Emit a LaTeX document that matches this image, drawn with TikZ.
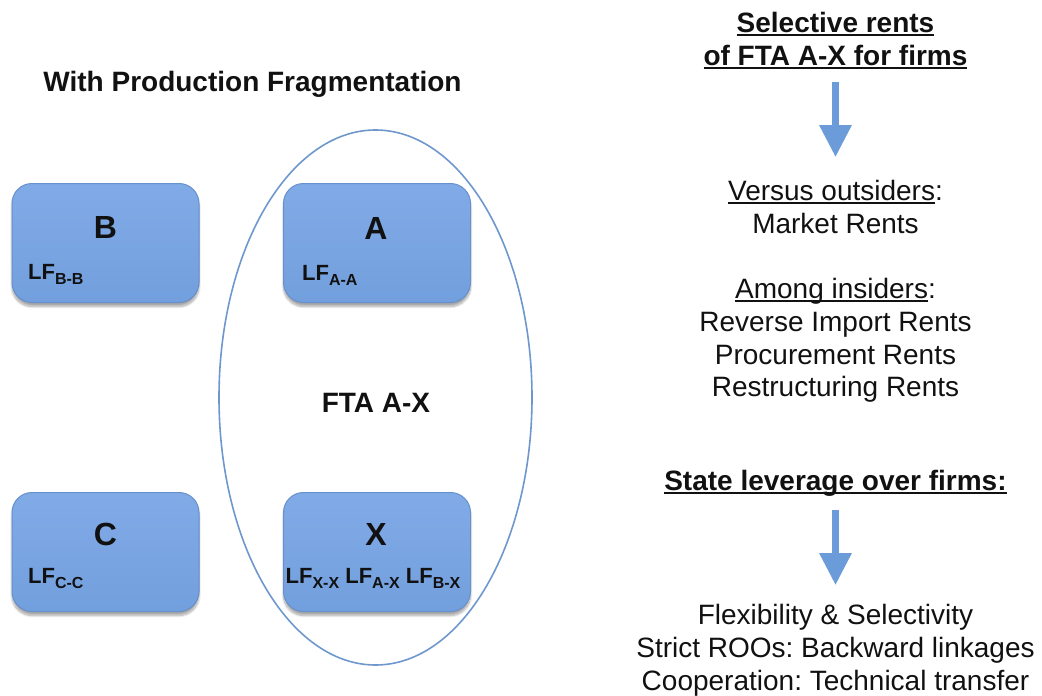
\documentclass[tikz,border=0pt]{standalone}
\usepackage{fontspec}
\setmainfont{Liberation Sans}
\usetikzlibrary{shapes.geometric,arrows.meta,shadows.blur}
\frenchspacing

\definecolor{boxtop}{HTML}{81ABE7}
\definecolor{boxbot}{HTML}{729FDD}
\definecolor{boxline}{HTML}{6790CC}
\definecolor{ringblue}{HTML}{6E97CE}
\definecolor{arrowblue}{HTML}{6B9BD8}
\definecolor{ink}{HTML}{111111}

% underline at a fixed depth below the baseline (crosses descenders)
\newcommand\uln[1]{\setbox0\hbox{#1}\rlap{\rule[-3.6pt]{\wd0}{1.7pt}}\box0}
% "LF" with a lowered small subscript
\newcommand\lfsub[1]{LF\raisebox{-5.5pt}{\fontsize{16}{16}\selectfont #1}}

\tikzset{
  country/.style={rectangle, rounded corners=20pt, draw=boxline, line width=1pt,
    top color=boxtop, bottom color=boxbot, minimum width=187pt, minimum height=119pt,
    inner sep=0pt,
    blur shadow={shadow xshift=0pt, shadow yshift=-4pt, shadow blur steps=10, shadow opacity=35}},
  letter/.style={font=\bfseries\fontsize{32}{32}\selectfont, text=ink, anchor=base, inner sep=0pt},
  lflabel/.style={font=\bfseries\fontsize{22}{22}\selectfont, text=ink, anchor=base west, inner sep=0pt},
  heading/.style={font=\bfseries\fontsize{28}{33}\selectfont, text=ink, anchor=base, inner sep=0pt},
  plain/.style={font=\fontsize{28}{33}\selectfont, text=ink, anchor=base, inner sep=0pt},
  ring/.style={ellipse, draw=ringblue, line width=1.6pt, inner sep=0pt,
    minimum width=313pt, minimum height=535pt},
  downarrow/.style={draw=arrowblue, line width=6.5pt,
    -{Triangle[width=31pt,length=32pt]}, arrowblue},
}

\begin{document}
\begin{tikzpicture}[x=1pt,y=-1pt]
\useasboundingbox (0,0) rectangle (1042,696);

% ---- left panel: countries and the FTA
\node[heading] (title) at (252.5,91) {With Production Fragmentation};

\node[ring] (fta) at (375.5,397.5) {};
\node[heading] (ftalabel) at (376,412) {FTA A-X};

\node[country] (boxB) at (105.5,243) {};
\node[country] (boxA) at (377,243) {};
\node[country] (boxC) at (105.5,552) {};
\node[country] (boxX) at (377,552) {};

\node[letter] (lB) at (105.5,238) {B};
\node[letter] (lA) at (376,239) {A};
\node[letter] (lC) at (105.5,545) {C};
\node[letter] (lX) at (376,545) {X};

\node[lflabel] (lfB) at (28,279) {\lfsub{B-B}};
\node[lflabel] (lfA) at (302,280) {\lfsub{A-A}};
\node[lflabel] (lfC) at (28,583) {\lfsub{C-C}};
\node[lflabel, anchor=base] (lfX) at (373,583) {\lfsub{X-X} \lfsub{A-X} \lfsub{B-X}};

% ---- right panel: rents and leverage
\node[heading] (sel1) at (835.5,32) {\uln{Selective rents}};
\node[heading] (sel2) at (835.5,65) {\uln{of FTA A-X for firms}};

\coordinate (a1s) at (835.5,82);
\coordinate (a1e) at (835.5,157);
\draw[downarrow] (a1s) -- (a1e);

\node[plain] (vs) at (835.5,200) {\uln{Versus outsiders}:};
\node[plain] (mkt) at (835.5,233) {Market Rents};

\node[plain] (among) at (835.5,298) {\uln{Among insiders}:};
\node[plain] (rev) at (835.5,331) {Reverse Import Rents};
\node[plain] (proc) at (835.5,364) {Procurement Rents};
\node[plain] (restr) at (835.5,396) {Restructuring Rents};

\node[heading] (lev) at (835.5,490) {\uln{State leverage over firms:}};

\coordinate (a2s) at (835.5,510);
\coordinate (a2e) at (835.5,585);
\draw[downarrow] (a2s) -- (a2e);

\node[plain] (flex) at (835.5,624) {Flexibility \& Selectivity};
\node[plain] (roo) at (835.5,657) {Strict ROOs: Backward linkages};
\node[plain] (coop) at (835.5,690) {Cooperation: Technical transfer};
\end{tikzpicture}
\end{document}
